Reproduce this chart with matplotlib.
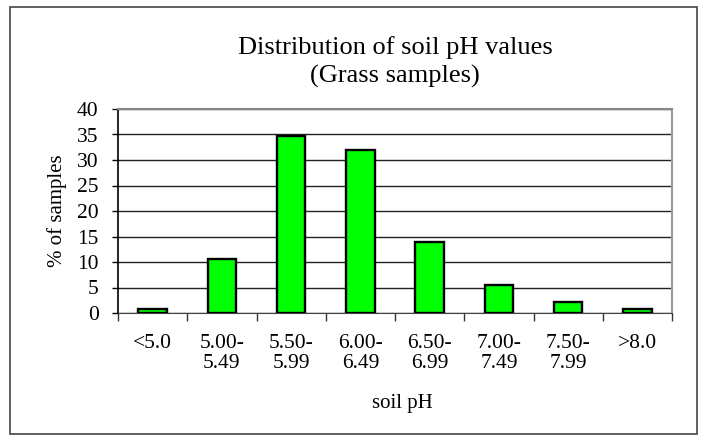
import matplotlib
matplotlib.use('Agg')
import matplotlib.pyplot as plt
from matplotlib.patches import Rectangle

# soil pH classes and % of grass samples in each
categories = ['<5.0', '5.00-\n5.49', '5.50-\n5.99', '6.00-\n6.49',
              '6.50-\n6.99', '7.00-\n7.49', '7.50-\n7.99', '>8.0']
pct_samples = [0.8, 10.6, 34.8, 31.9, 14.0, 5.4, 2.2, 0.7]
yticks = [0, 5, 10, 15, 20, 25, 30, 35, 40]

plt.rcParams['font.family'] = ['Liberation Serif', 'DejaVu Serif']

W, H = 703, 437
fig = plt.figure(figsize=(W / 100, H / 100), dpi=100)
ax = fig.add_axes([118 / W, 1 - 313 / H, (672 - 118) / W, (313 - 109) / H])

x = list(range(len(categories)))
ax.bar(x, pct_samples, width=0.41, color='#00ff00', edgecolor='black',
       linewidth=1.7, zorder=3)

ax.set_xlim(-0.5, len(categories) - 0.5)
ax.set_ylim(0, 40)
ax.set_yticks(yticks)
ax.tick_params(axis='y', direction='out', length=4, width=1, pad=10,
               labelsize=15.5, colors='black')
ax.set_xticks(x)
ax.set_xticklabels(categories, fontsize=15.5, linespacing=1.08,
                   verticalalignment='top')
ax.tick_params(axis='x', which='major', length=0, pad=15)
ax.set_xticks([i - 0.5 for i in range(len(categories) + 1)], minor=True)
ax.tick_params(axis='x', which='minor', direction='out', length=6,
               width=1, color='#333333')

ax.grid(axis='y', color='#222222', linewidth=1, zorder=0)
ax.set_axisbelow(True)
ax.spines['left'].set_color('black')
ax.spines['left'].set_linewidth(1.2)
ax.spines['bottom'].set_color('#444444')
ax.spines['top'].set_color('#888888')
ax.spines['right'].set_color('#999999')
ax.spines['top'].set_linewidth(1.5)
ax.spines['right'].set_linewidth(1.5)

fig.text(395 / W, 1 - 54 / H, 'Distribution of soil pH values',
         ha='center', va='baseline', fontsize=19)
fig.text(395 / W, 1 - 83 / H, '(Grass samples)',
         ha='center', va='baseline', fontsize=19)
fig.text(57 / W, 1 - 211 / H, '% of samples', rotation=90, ha='center',
         va='center', fontsize=15)
fig.text(402 / W, 1 - 408 / H, 'soil pH', ha='center', va='baseline',
         fontsize=15)

fig.patches.append(Rectangle((10 / W, 1 - 434 / H), 687 / W, 427 / H,
                             transform=fig.transFigure, fill=False,
                             edgecolor='#444444', linewidth=1.2))

fig.savefig('out.png', dpi=100)
